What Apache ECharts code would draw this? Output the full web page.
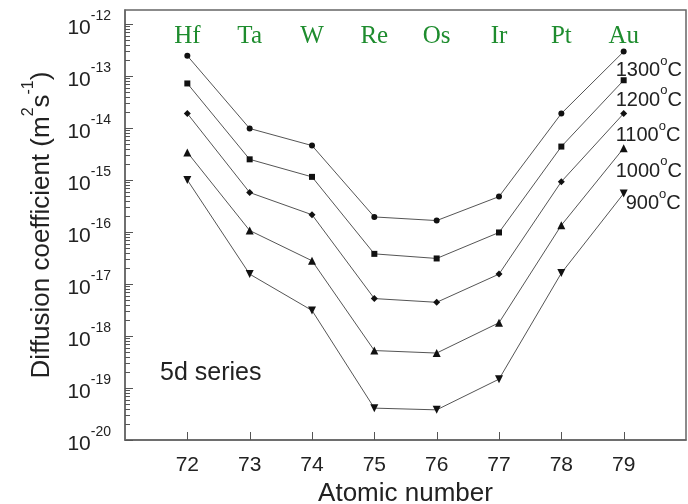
<!DOCTYPE html>
<html>
<head>
<meta charset="utf-8">
<script src="https://cdn.jsdelivr.net/npm/echarts@6/dist/echarts.min.js"></script>
<style>html,body{margin:0;padding:0;background:#fff}#c{width:688px;height:504px}</style>
</head>
<body>
<div id="c"></div>
<script>
// ---- data ----
const atomicNumbers = [72, 73, 74, 75, 76, 77, 78, 79];
const elements = ['Hf', 'Ta', 'W', 'Re', 'Os', 'Ir', 'Pt', 'Au'];
const temperatures = ['1300', '1200', '1100', '1000', '900'];
const d1300 = [2.45e-13, 9.8e-15, 4.6e-15, 1.95e-16, 1.66e-16, 4.8e-16, 1.9e-14, 2.95e-13];
const d1200 = [7.2e-14, 2.5e-15, 1.15e-15, 3.8e-17, 3.1e-17, 9.8e-17, 4.4e-15, 8.3e-14];
const d1100 = [1.9e-14, 5.75e-16, 2.15e-16, 5.25e-18, 4.45e-18, 1.55e-17, 9.3e-16, 1.9e-14];
const d1000 = [3.4e-15, 1.07e-16, 2.8e-17, 5.25e-19, 4.7e-19, 1.8e-18, 1.35e-16, 4.1e-15];
const d900  = [1.0e-15, 1.55e-17, 3.1e-18, 4.1e-20, 3.8e-20, 1.48e-19, 1.62e-17, 5.5e-16];
const yTickExponents = [-20, -19, -18, -17, -16, -15, -14, -13, -12];
const xTicks = [72, 73, 74, 75, 76, 77, 78, 79];

// ---- styles ----
const seriesData = [d1300, d1200, d1100, d1000, d900];
const symbols = ['circle', 'rect', 'diamond', 'triangle', 'triangle'];
const symbolSizes = [6, 6, 7, 8, 8];
const symbolRotates = [0, 0, 0, 0, 180];
const labelOffsets = [[-8, 16], [-8, 17], [-8, 19], [-8, 20], [2, 7]];
const SANS = 'Liberation Sans, Arial, sans-serif';
const SERIF = 'Liberation Serif, Times New Roman, serif';
const AXIS_COLOR = '#666';
const TICK_COLOR = '#555';
const MAJOR_LEN = 8, MINOR_LEN = 5;
const X_MIN = 71, X_MAX = 80, Y_MIN = -20, Y_MAX = -11.73;

// minor tick positions of the log axis (2..9 x 10^n), in log10 space
const minorTicks = [];
for (let n = -20; n < -11; n++) {
  for (let k = 2; k <= 9; k++) {
    const v = n + Math.log10(k);
    if (v < Y_MAX) minorTicks.push(v);
  }
}

const chart = echarts.init(document.getElementById('c'), null, {renderer: 'canvas'});

const series = seriesData.map((arr, i) => ({
  type: 'line',
  xAxisIndex: 0,
  yAxisIndex: 0,
  symbol: symbols[i],
  symbolSize: symbolSizes[i],
  symbolRotate: symbolRotates[i],
  itemStyle: {color: '#111'},
  lineStyle: {color: '#555', width: 1},
  z: 3,
  data: arr.map((v, j) => {
    const item = {value: [atomicNumbers[j], Math.log10(v)]};
    if (j === arr.length - 1) {
      item.label = {
        show: true,
        position: 'inside',
        align: 'left',
        verticalAlign: 'middle',
        offset: labelOffsets[i],
        formatter: '{n|' + temperatures[i] + '}{s|o}{n|C}',
        rich: {
          n: {fontFamily: SANS, fontSize: 20, color: '#222', lineHeight: 26, verticalAlign: 'bottom'},
          s: {fontFamily: SANS, fontSize: 13, color: '#222', lineHeight: 12, verticalAlign: 'top'}
        }
      };
    }
    return item;
  })
}));

// axis ticks (inside) placed through the axes' scales
const tickData = []
  .concat(yTickExponents.map(v => [X_MIN, v, 0, MAJOR_LEN]))
  .concat(minorTicks.map(v => [X_MIN, v, 0, MINOR_LEN]))
  .concat(xTicks.map(v => [v, Y_MIN, 1, MAJOR_LEN]));

series.push({
  type: 'custom',
  xAxisIndex: 0,
  yAxisIndex: 0,
  silent: true,
  clip: false,
  z: 4,
  data: tickData,
  renderItem: (params, api) => {
    const p = api.coord([api.value(0), api.value(1)]);
    const len = api.value(3);
    let shape;
    if (api.value(2) === 0) {
      const y = Math.round(p[1]) + 0.5;
      shape = {x1: p[0], y1: y, x2: p[0] + len, y2: y};
    } else {
      const x = Math.round(p[0]) + 0.5;
      shape = {x1: x, y1: p[1], x2: x, y2: p[1] - len};
    }
    return {type: 'line', shape: shape, style: {stroke: TICK_COLOR, lineWidth: 1}};
  }
});

chart.setOption({
  animation: false,
  backgroundColor: '#fff',
  grid: {
    left: 125, top: 10, right: 2, bottom: 64,
    show: true, borderColor: AXIS_COLOR, borderWidth: 1.5,
    outerBoundsMode: 'none'
  },
  xAxis: [{
    type: 'value', position: 'bottom', min: X_MIN, max: X_MAX,
    axisLine: {show: true, onZero: false, lineStyle: {color: AXIS_COLOR, width: 1.5}},
    splitLine: {show: false},
    axisTick: {show: false},
    axisLabel: {customValues: xTicks, margin: 15, fontFamily: SANS, fontSize: 21, color: '#222'},
    name: 'Atomic number', nameLocation: 'middle', nameGap: 37,
    nameTextStyle: {fontFamily: SANS, fontSize: 26, color: '#222'}
  }, {
    type: 'value', position: 'top', min: X_MIN, max: X_MAX,
    axisLine: {show: false}, splitLine: {show: false}, axisTick: {show: false},
    axisLabel: {
      inside: true, margin: 14, customValues: atomicNumbers,
      formatter: v => elements[atomicNumbers.indexOf(Math.round(v))] || '',
      fontFamily: SERIF, fontSize: 25, color: '#1e8c2e'
    }
  }],
  yAxis: [{
    type: 'value', position: 'left', min: Y_MIN, max: Y_MAX,
    axisLine: {show: true, onZero: false, lineStyle: {color: AXIS_COLOR, width: 1.5}},
    splitLine: {show: false},
    axisTick: {show: false},
    axisLabel: {
      customValues: yTickExponents, margin: 14,
      formatter: v => '{b|10}{s|' + Math.round(v) + '}',
      rich: {
        b: {fontFamily: SANS, fontSize: 21, color: '#222', lineHeight: 30, verticalAlign: 'bottom'},
        s: {fontFamily: SANS, fontSize: 14, color: '#222', lineHeight: 14, verticalAlign: 'top'}
      }
    },
    name: '{n|Diffusion coefficient (m}{s|2}{n|s}{s|-1}{n|)}', nameLocation: 'middle', nameGap: 70, nameRotate: 90,
    nameTextStyle: {
      fontFamily: SANS, fontSize: 26, color: '#222',
      rich: {
        n: {fontFamily: SANS, fontSize: 26, color: '#222', lineHeight: 34, verticalAlign: 'bottom'},
        s: {fontFamily: SANS, fontSize: 16, color: '#222', lineHeight: 16, verticalAlign: 'top'}
      }
    }
  }],
  graphic: [{
    type: 'text', left: 160, top: 361,
    style: {text: '5d series', fontFamily: SANS, fontSize: 25, fill: '#222'}
  }],
  series: series
});
</script>
</body>
</html>
